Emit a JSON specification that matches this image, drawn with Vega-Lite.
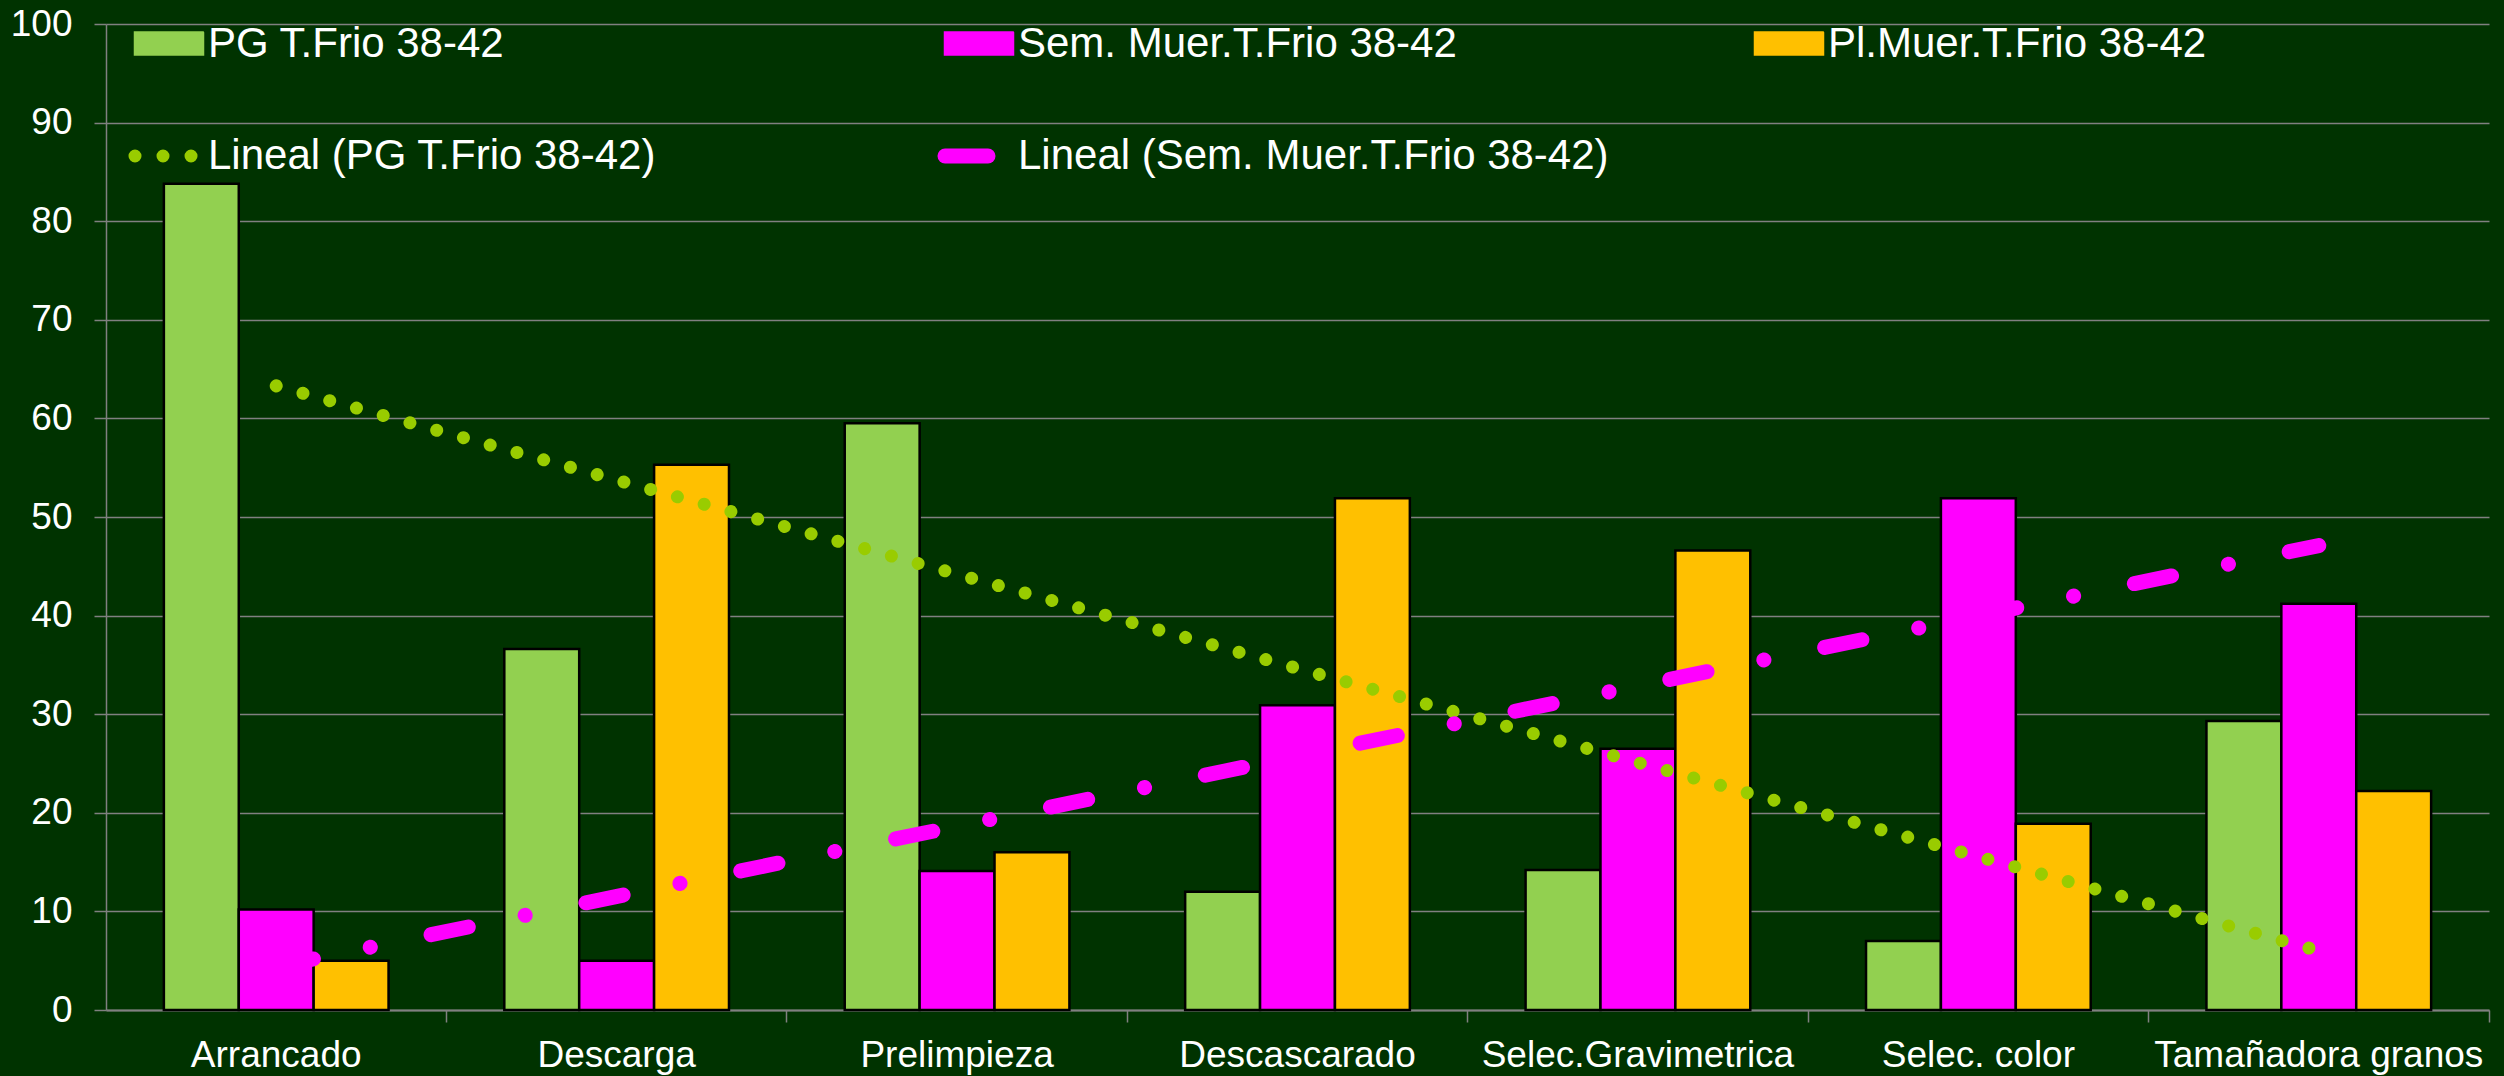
{
  "$schema": "https://vega.github.io/schema/vega-lite/v6.json",
  "width": 2383,
  "height": 986,
  "autosize": "none",
  "padding": {"left": 106, "top": 24, "right": 15, "bottom": 66},
  "background": "#003300",
  "config": {"view": {"stroke": null}, "font": "Liberation Sans"},
  "datasets": {
    "bars": [
      {"cat": "Arrancado", "series": "PG T.Frio 38-42", "value": 83.8},
      {"cat": "Arrancado", "series": "Sem. Muer.T.Frio 38-42", "value": 10.2},
      {"cat": "Arrancado", "series": "Pl.Muer.T.Frio 38-42", "value": 5.0},
      {"cat": "Descarga", "series": "PG T.Frio 38-42", "value": 36.6},
      {"cat": "Descarga", "series": "Sem. Muer.T.Frio 38-42", "value": 5.0},
      {"cat": "Descarga", "series": "Pl.Muer.T.Frio 38-42", "value": 55.3},
      {"cat": "Prelimpieza", "series": "PG T.Frio 38-42", "value": 59.5},
      {"cat": "Prelimpieza", "series": "Sem. Muer.T.Frio 38-42", "value": 14.1},
      {"cat": "Prelimpieza", "series": "Pl.Muer.T.Frio 38-42", "value": 16.0},
      {"cat": "Descascarado", "series": "PG T.Frio 38-42", "value": 12.0},
      {"cat": "Descascarado", "series": "Sem. Muer.T.Frio 38-42", "value": 30.9},
      {"cat": "Descascarado", "series": "Pl.Muer.T.Frio 38-42", "value": 51.9},
      {"cat": "Selec.Gravimetrica", "series": "PG T.Frio 38-42", "value": 14.2},
      {"cat": "Selec.Gravimetrica", "series": "Sem. Muer.T.Frio 38-42", "value": 26.5},
      {"cat": "Selec.Gravimetrica", "series": "Pl.Muer.T.Frio 38-42", "value": 46.6},
      {"cat": "Selec. color", "series": "PG T.Frio 38-42", "value": 7.0},
      {"cat": "Selec. color", "series": "Sem. Muer.T.Frio 38-42", "value": 51.9},
      {"cat": "Selec. color", "series": "Pl.Muer.T.Frio 38-42", "value": 18.9},
      {"cat": "Tamañadora granos", "series": "PG T.Frio 38-42", "value": 29.3},
      {"cat": "Tamañadora granos", "series": "Sem. Muer.T.Frio 38-42", "value": 41.2},
      {"cat": "Tamañadora granos", "series": "Pl.Muer.T.Frio 38-42", "value": 22.2}
    ],
    "trendPG": [
      {"cat": "Arrancado", "series": "Lineal (PG T.Frio 38-42)", "value": 63.3},
      {"cat": "Tamañadora granos", "series": "Lineal (PG T.Frio 38-42)", "value": 6.0}
    ],
    "trendSem": [
      {"cat": "Arrancado", "series": "Lineal (Sem. Muer.T.Frio 38-42)", "value": 4.4},
      {"cat": "Tamañadora granos", "series": "Lineal (Sem. Muer.T.Frio 38-42)", "value": 47.1}
    ]
  },
  "encoding": {
    "x": {
      "field": "cat",
      "type": "nominal",
      "sort": ["Arrancado", "Descarga", "Prelimpieza", "Descascarado", "Selec.Gravimetrica", "Selec. color", "Tamañadora granos"],
      "scale": {"paddingInner": 0.34, "paddingOuter": 0.17},
      "axis": {
        "title": null,
        "labelAngle": 0,
        "bandPosition": 1.2577,
        "tickSize": 12,
        "tickColor": "#808080",
        "tickWidth": 1.5,
        "domainColor": "#808080",
        "domainWidth": 2,
        "labelColor": "white",
        "labelFont": "Liberation Sans",
        "labelFontSize": 37,
        "labelPadding": 15,
        "labelLimit": 1000
      }
    },
    "y": {
      "field": "value",
      "type": "quantitative",
      "scale": {"domain": [0, 100], "nice": false},
      "axis": {
        "title": null,
        "values": [0, 10, 20, 30, 40, 50, 60, 70, 80, 90, 100],
        "grid": true,
        "gridColor": "#808080",
        "gridWidth": 1.5,
        "tickSize": 12,
        "tickColor": "#808080",
        "tickWidth": 1.5,
        "domainColor": "#808080",
        "domainWidth": 1.5,
        "labelColor": "white",
        "labelFont": "Liberation Sans",
        "labelFontSize": 37,
        "labelPadding": 22
      }
    },
    "color": {
      "field": "series",
      "type": "nominal",
      "scale": {
        "domain": ["PG T.Frio 38-42", "Sem. Muer.T.Frio 38-42", "Pl.Muer.T.Frio 38-42", "Lineal (PG T.Frio 38-42)", "Lineal (Sem. Muer.T.Frio 38-42)"],
        "range": ["#92D050", "#FF00FF", "#FFC000", "#99CC00", "#FF00FF"]
      },
      "legend": {
        "title": null,
        "orient": "none",
        "direction": "horizontal",
        "legendX": 42,
        "legendY": -6,
        "columns": 3,
        "gridAlign": "all",
        "columnPadding": 116,
        "rowPadding": 57,
        "padding": 0,
        "symbolSize": 4624,
        "symbolStrokeWidth": 2.5,
        "labelFontSize": 42,
        "labelFont": "Liberation Sans",
        "labelColor": "white",
        "labelOffset": 18,
        "labelLimit": 1000,
        "encode": {
          "symbols": {
            "update": {
              "shape": {"signal": "indexof(datum.value, 'Lineal') === 0 ? 'stroke' : 'M-1,-0.32H1V0.32H-1Z'"},
              "size": {"value": 4624},
              "fill": {"signal": "indexof(datum.value, 'Lineal') === 0 ? 'transparent' : scale('color', datum.value)"},
              "stroke": {"signal": "indexof(datum.value, 'Lineal') === 0 ? scale('color', datum.value) : 'black'"},
              "strokeWidth": {"signal": "datum.value === 'Lineal (PG T.Frio 38-42)' ? 13 : (datum.value === 'Lineal (Sem. Muer.T.Frio 38-42)' ? 15 : 2.5)"},
              "strokeDash": {"signal": "datum.value === 'Lineal (PG T.Frio 38-42)' ? [0.01, 28] : (datum.value === 'Lineal (Sem. Muer.T.Frio 38-42)' ? [43, 100] : [1, 0])"},
              "strokeCap": {"value": "round"},
              "opacity": {"value": 1}
            }
          }
        }
      }
    }
  },
  "layer": [
    {
      "data": {"name": "bars"},
      "mark": {"type": "bar", "stroke": "black", "strokeWidth": 2.5},
      "encoding": {
        "xOffset": {
          "field": "series",
          "type": "nominal",
          "sort": ["PG T.Frio 38-42", "Sem. Muer.T.Frio 38-42", "Pl.Muer.T.Frio 38-42"],
          "scale": {"paddingInner": 0, "paddingOuter": 0}
        }
      }
    },
    {
      "data": {"name": "trendPG"},
      "mark": {"type": "line", "strokeWidth": 13, "strokeCap": "round", "strokeDash": [0.01, 27.74]},
      "encoding": {}
    },
    {
      "data": {"name": "trendSem"},
      "mark": {"type": "line", "strokeWidth": 15, "strokeCap": "round", "strokeDash": [38, 58, 0.1, 62]},
      "encoding": {}
    }
  ]
}
